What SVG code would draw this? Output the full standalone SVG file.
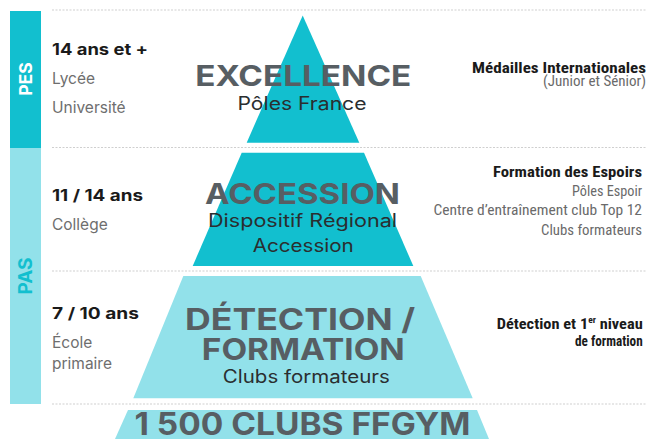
<svg xmlns="http://www.w3.org/2000/svg" width="648" height="439" viewBox="0 0 648 439">
<style>
.sep{stroke:#cfcfcf;stroke-width:1.2;stroke-dasharray:2 1.5;fill:none}
.dark{fill:#12bfcf}
.light{fill:#92e1ea}
.big{font-family:Inter,"Open Sans",sans-serif;font-weight:700;fill:#575e63;text-anchor:middle}
.sub{font-family:Inter,"Open Sans",sans-serif;font-weight:400;fill:#2a2e30;text-anchor:middle;font-size:18px}
.age{font-family:Inter,"Open Sans",sans-serif;font-weight:700;fill:#1a1a1a;font-size:15.5px}
.lvl{font-family:Inter,"Open Sans",sans-serif;font-weight:400;fill:#6e6e6e;font-size:15.5px}
.rb{font-family:"Roboto Condensed","Liberation Sans Narrow",Roboto,sans-serif;font-weight:700;fill:#1a1a1a;font-size:15.5px;text-anchor:end}
.rn{font-family:"Roboto Condensed","Liberation Sans Narrow",Roboto,sans-serif;font-weight:400;fill:#6a6a6a;font-size:15px;text-anchor:end}
.bar{font-family:Inter,"Open Sans",sans-serif;font-weight:700;text-anchor:middle}
</style>
<rect width="648" height="439" fill="#ffffff"/>
<g id="separators">
<line class="sep" x1="52" y1="10" x2="646" y2="10"/>
<line class="sep" x1="52" y1="147.5" x2="646" y2="147.5"/>
<line class="sep" x1="52" y1="271" x2="646" y2="271"/>
<line class="sep" x1="52" y1="404" x2="646" y2="404"/>
</g>
<g id="side-bar">
<rect x="10" y="11" width="31" height="137" class="dark"/>
<rect x="10" y="148" width="31" height="256" class="light"/>
<text class="bar" fill="#ffffff" font-size="17.5" transform="translate(31.5,79) rotate(-90)">PES</text>
<text class="bar" fill="#12bfcf" font-size="19" transform="translate(32,276) rotate(-90)">PAS</text>
</g>
<g id="excellence">
<polygon class="dark" points="302.7,15.5 359.3,142.7 246.7,142.7"/>
<text class="big" x="303.3" y="86" font-size="29" textLength="216" lengthAdjust="spacingAndGlyphs">EXCELLENCE</text>
<text class="sub" x="302" y="110" textLength="129" lengthAdjust="spacingAndGlyphs">Pôles France</text>
</g>
<g id="accession">
<polygon class="dark" points="241.7,152.7 364,152.7 413.3,266 192.7,266"/>
<text class="big" x="302.5" y="204" font-size="29" textLength="195" lengthAdjust="spacingAndGlyphs">ACCESSION</text>
<text class="sub" x="302.5" y="227.3" textLength="189" lengthAdjust="spacingAndGlyphs">Dispositif Régional</text>
<text class="sub" x="303.3" y="251.7" textLength="101" lengthAdjust="spacingAndGlyphs">Accession</text>
</g>
<g id="detection">
<polygon class="light" points="183.3,276 420.7,276 472.7,398.3 133.3,398.3"/>
<text class="big" x="300" y="330" font-size="30" textLength="230" lengthAdjust="spacingAndGlyphs">DÉTECTION /</text>
<text class="big" x="303.3" y="360" font-size="30" textLength="203" lengthAdjust="spacingAndGlyphs">FORMATION</text>
<text class="sub" x="306.3" y="383.3" textLength="167" lengthAdjust="spacingAndGlyphs">Clubs formateurs</text>
</g>
<g id="clubs">
<polygon class="light" points="128,410 477,410 489,439 115,439"/>
<text class="big" x="302.5" y="434.5" font-size="31" textLength="336" lengthAdjust="spacingAndGlyphs">1 500 CLUBS FFGYM</text>
</g>
<g id="age-pes">
<text class="age" x="52" y="55" textLength="96" lengthAdjust="spacingAndGlyphs">14 ans et +</text>
<text class="lvl" x="52" y="84">Lycée</text>
<text class="lvl" x="52" y="113">Université</text>
</g>
<g id="age-acc">
<text class="age" x="52" y="201" textLength="91" lengthAdjust="spacingAndGlyphs">11 / 14 ans</text>
<text class="lvl" x="52" y="230">Collège</text>
</g>
<g id="age-det">
<text class="age" x="52" y="319.3" textLength="87" lengthAdjust="spacingAndGlyphs">7 / 10 ans</text>
<text class="lvl" x="52" y="348.3">École</text>
<text class="lvl" x="52" y="369.3">primaire</text>
</g>
<g id="result-excellence">
<text class="rb" x="646" y="72.7" textLength="174" lengthAdjust="spacingAndGlyphs">Médailles Internationales</text>
<text class="rn" x="646" y="86" textLength="103" lengthAdjust="spacingAndGlyphs">(Junior et Sénior)</text>
</g>
<g id="result-accession">
<text class="rb" x="642" y="176.7" textLength="149" lengthAdjust="spacingAndGlyphs">Formation des Espoirs</text>
<text class="rn" x="642" y="196" textLength="70" lengthAdjust="spacingAndGlyphs">Pôles Espoir</text>
<text class="rn" x="642" y="215.3" textLength="208.5" lengthAdjust="spacingAndGlyphs">Centre d’entraînement club Top 12</text>
<text class="rn" x="642" y="235" textLength="101" lengthAdjust="spacingAndGlyphs">Clubs formateurs</text>
</g>
<g id="result-detection">
<text class="rb" x="642.7" y="329.3" textLength="146" lengthAdjust="spacingAndGlyphs">Détection et 1<tspan font-size="9" dy="-6">er</tspan><tspan dy="6"> niveau</tspan></text>
<text class="rb" x="642.7" y="346" textLength="67.7" lengthAdjust="spacingAndGlyphs">de formation</text>
</g>
</svg>
